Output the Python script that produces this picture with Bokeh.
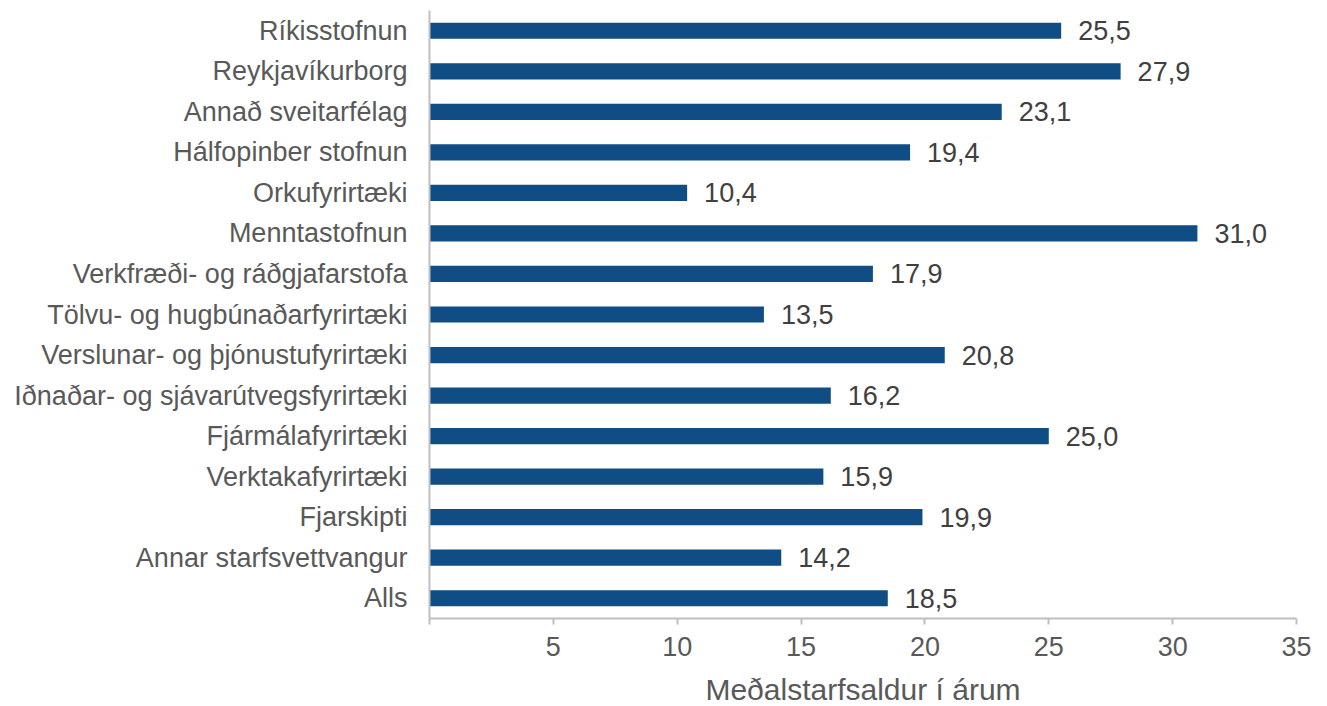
from bokeh.plotting import figure
from bokeh.models import ColumnDataSource, FactorRange, FixedTicker, Range1d
from bokeh.core.properties import value
from bokeh.embed import file_html
from bokeh.resources import INLINE

categories = [
    "Ríkisstofnun",
    "Reykjavíkurborg",
    "Annað sveitarfélag",
    "Hálfopinber stofnun",
    "Orkufyrirtæki",
    "Menntastofnun",
    "Verkfræði- og ráðgjafarstofa",
    "Tölvu- og hugbúnaðarfyrirtæki",
    "Verslunar- og þjónustufyrirtæki",
    "Iðnaðar- og sjávarútvegsfyrirtæki",
    "Fjármálafyrirtæki",
    "Verktakafyrirtæki",
    "Fjarskipti",
    "Annar starfsvettvangur",
    "Alls",
]
values = [25.5, 27.9, 23.1, 19.4, 10.4, 31.0, 17.9, 13.5, 20.8, 16.2, 25.0, 15.9, 19.9, 14.2, 18.5]
x_ticks = [0, 5, 10, 15, 20, 25, 30, 35]
x_title = "Meðalstarfsaldur í árum"

labels = [f"{v:.1f}".replace(".", ",") for v in values]
src = ColumnDataSource(dict(cat=categories, val=values, lab=labels))

FONT = "Liberation Sans"
BAR = "#0f4d84"
GRAY_TXT = "#595959"
AXIS = "#bfbfbf"

p = figure(
    y_range=FactorRange(factors=list(reversed(categories)), range_padding=0),
    x_range=Range1d(0, 35),
    frame_width=867,
    frame_height=608,
    min_border_left=429,
    min_border_right=20,
    min_border_top=10,
    min_border_bottom=60,
    output_backend="svg",
    toolbar_location=None,
    background_fill_color="white",
    border_fill_color="white",
    outline_line_color=None,
)

p.hbar(y="cat", right="val", left=0, height=0.4, source=src, color=BAR, line_color=None)
p.text(x="val", y="cat", text="lab", source=src, x_offset=17,
       text_font=value(FONT), text_font_size="27px", text_color="#404040",
       text_baseline="middle", text_align="left")

p.xgrid.visible = False
p.ygrid.visible = False

xa = p.xaxis[0]
xa.ticker = FixedTicker(ticks=x_ticks)
xa.major_label_overrides = {0: ""}
xa.axis_line_color = AXIS
xa.axis_line_width = 2
xa.major_tick_line_color = AXIS
xa.major_tick_line_width = 2
xa.major_tick_out = 6
xa.major_tick_in = 0
xa.minor_tick_line_color = None
xa.major_label_text_font = FONT
xa.major_label_text_font_size = "27px"
xa.major_label_text_color = GRAY_TXT
xa.major_label_standoff = 12
xa.axis_label = x_title
xa.axis_label_text_font = FONT
xa.axis_label_text_font_size = "30px"
xa.axis_label_text_font_style = "normal"
xa.axis_label_text_color = GRAY_TXT
xa.axis_label_standoff = 14

ya = p.yaxis[0]
ya.axis_line_color = AXIS
ya.axis_line_width = 2
ya.major_tick_line_color = None
ya.minor_tick_line_color = None
ya.major_tick_out = 0
ya.major_tick_in = 0
ya.major_label_text_font = FONT
ya.major_label_text_font_size = "27px"
ya.major_label_text_color = GRAY_TXT
ya.major_label_standoff = 22

open("out.html", "w").write(file_html(p, INLINE))
